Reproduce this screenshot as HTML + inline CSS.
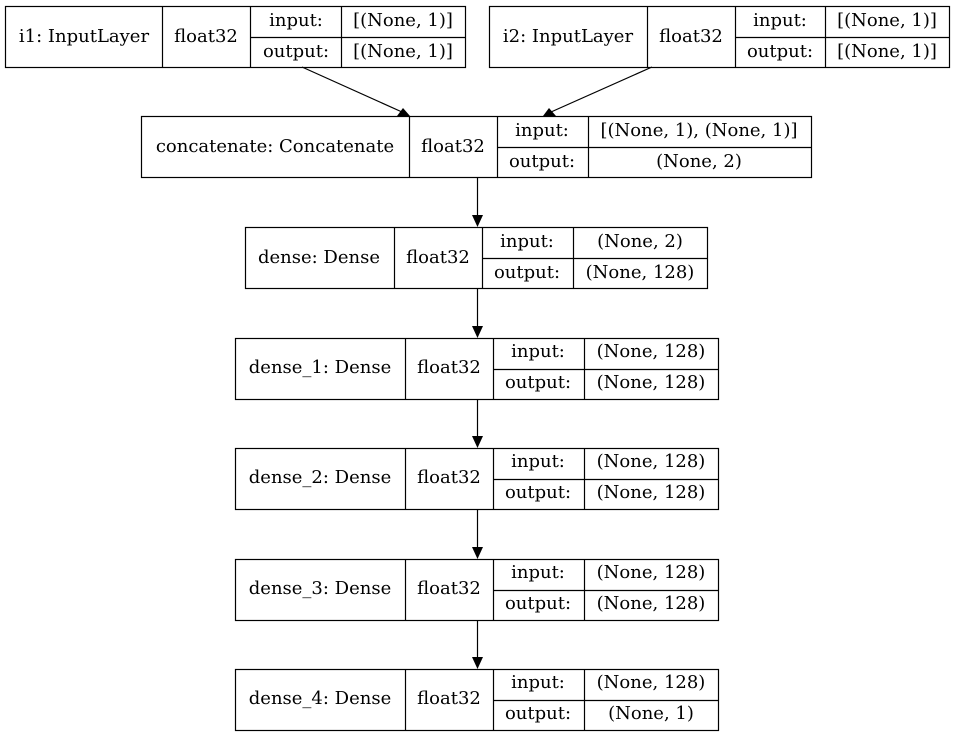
<!DOCTYPE html>
<html><head><style>body{margin:0;background:#fff}svg{display:block}text{font-family:"DejaVu Serif",serif;font-size:18px;fill:#000}</style></head><body>
<svg width="955" height="737" viewBox="0 0 955 737" xmlns="http://www.w3.org/2000/svg">
<g fill="none" stroke="#000" stroke-width="1.2">
<rect x="5.5" y="6.5" width="460" height="61"/><line x1="162.5" y1="6" x2="162.5" y2="67"/><line x1="250.5" y1="6" x2="250.5" y2="67"/><line x1="341.5" y1="6" x2="341.5" y2="67"/><line x1="250" y1="37.5" x2="465" y2="37.5"/>
<rect x="489.5" y="6.5" width="460" height="61"/><line x1="647.5" y1="6" x2="647.5" y2="67"/><line x1="735.5" y1="6" x2="735.5" y2="67"/><line x1="825.5" y1="6" x2="825.5" y2="67"/><line x1="735" y1="37.5" x2="949" y2="37.5"/>
<rect x="141.5" y="116.5" width="670" height="61"/><line x1="409.5" y1="116" x2="409.5" y2="177"/><line x1="497.5" y1="116" x2="497.5" y2="177"/><line x1="588.5" y1="116" x2="588.5" y2="177"/><line x1="497" y1="147.5" x2="811" y2="147.5"/>
<rect x="245.5" y="227.5" width="462" height="61"/><line x1="394.5" y1="227" x2="394.5" y2="288"/><line x1="482.5" y1="227" x2="482.5" y2="288"/><line x1="573.5" y1="227" x2="573.5" y2="288"/><line x1="482" y1="258.5" x2="707" y2="258.5"/>
<g id="d"><rect x="235.5" y="338.5" width="483" height="61"/><line x1="405.5" y1="338" x2="405.5" y2="399"/><line x1="493.5" y1="338" x2="493.5" y2="399"/><line x1="584.5" y1="338" x2="584.5" y2="399"/><line x1="493" y1="369.5" x2="718" y2="369.5"/></g>
<use href="#d" y="110"/><use href="#d" y="221"/><use href="#d" y="331"/>
<line x1="302" y1="67" x2="402" y2="112"/><line x1="652" y1="67" x2="551" y2="112"/>
<line x1="477.5" y1="177" x2="477.5" y2="216"/><line x1="477.5" y1="288" x2="477.5" y2="327"/><line x1="477.5" y1="399" x2="477.5" y2="437"/><line x1="477.5" y1="509" x2="477.5" y2="548"/><line x1="477.5" y1="620" x2="477.5" y2="658"/>
</g>
<g fill="#000">
<polygon points="410,116 397,116 403,108"/><polygon points="543,116 549,108 556,116"/>
<polygon points="472,215 483,215 477.5,227"/><polygon points="472,326 483,326 477.5,338"/><polygon points="472,436 483,436 477.5,448"/><polygon points="472,547 483,547 477.5,559"/><polygon points="472,657 483,657 477.5,669"/>
</g>
<g text-anchor="middle">
<text x="84" y="42">i1: InputLayer</text><text x="206" y="42">float32</text><text x="296" y="26">input:</text><text x="296" y="57">output:</text><text x="403" y="26">[(None, 1)]</text><text x="403" y="57">[(None, 1)]</text>
<text x="568" y="42">i2: InputLayer</text><text x="691" y="42">float32</text><text x="780" y="26">input:</text><text x="780" y="57">output:</text><text x="887" y="26">[(None, 1)]</text><text x="887" y="57">[(None, 1)]</text>
<text x="275" y="152">concatenate: Concatenate</text><text x="453" y="152">float32</text><text x="542" y="136">input:</text><text x="542" y="167">output:</text><text x="699" y="136">[(None, 1), (None, 1)]</text><text x="699" y="167">(None, 2)</text>
<text x="319" y="263">dense: Dense</text><text x="438" y="263">float32</text><text x="527" y="247">input:</text><text x="527" y="278">output:</text><text x="640" y="247">(None, 2)</text><text x="640" y="278">(None, 128)</text>
<text x="320" y="373">dense_1: Dense</text><text x="449" y="373">float32</text><text x="538" y="357">input:</text><text x="538" y="388">output:</text><text x="651" y="357">(None, 128)</text><text x="651" y="388">(None, 128)</text>
<text x="320" y="483">dense_2: Dense</text><text x="449" y="483">float32</text><text x="538" y="467">input:</text><text x="538" y="498">output:</text><text x="651" y="467">(None, 128)</text><text x="651" y="498">(None, 128)</text>
<text x="320" y="594">dense_3: Dense</text><text x="449" y="594">float32</text><text x="538" y="578">input:</text><text x="538" y="609">output:</text><text x="651" y="578">(None, 128)</text><text x="651" y="609">(None, 128)</text>
<text x="320" y="704">dense_4: Dense</text><text x="449" y="704">float32</text><text x="538" y="688">input:</text><text x="538" y="719">output:</text><text x="651" y="688">(None, 128)</text><text x="651" y="719">(None, 1)</text>
</g>
</svg>
</body></html>
